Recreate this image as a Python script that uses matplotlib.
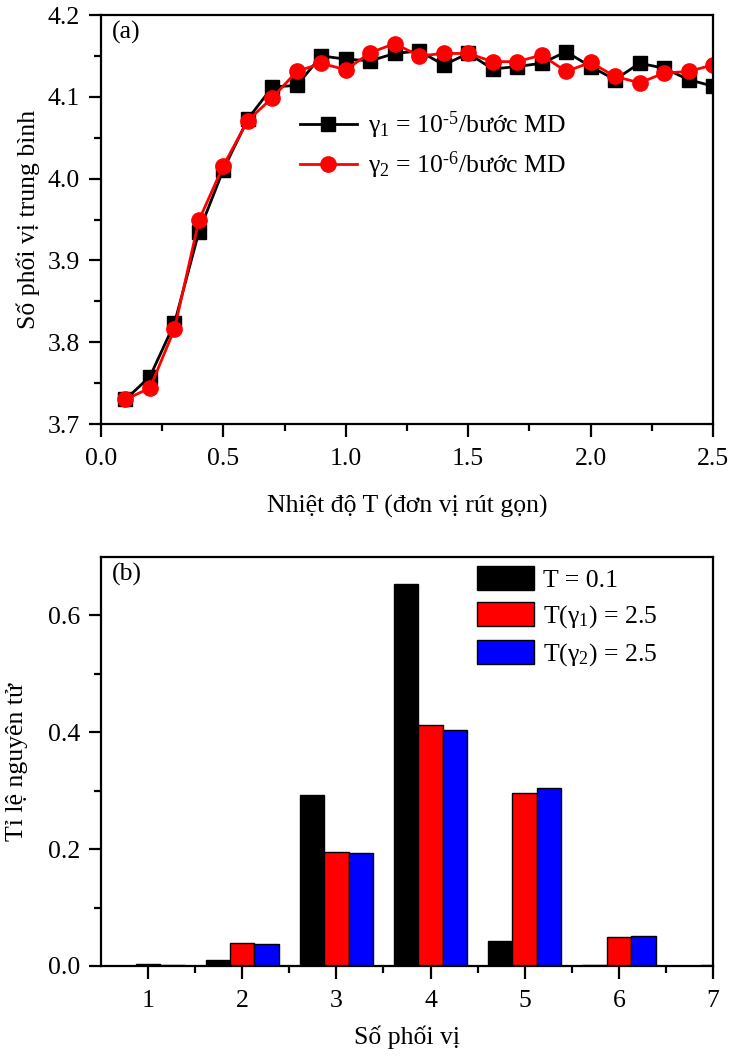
import matplotlib
matplotlib.use("Agg")
import matplotlib.pyplot as plt
import numpy as np

plt.rcParams['font.family'] = ['Liberation Serif', 'DejaVu Serif']
plt.rcParams['mathtext.fontset'] = 'custom'
plt.rcParams['mathtext.rm'] = 'Liberation Serif'
plt.rcParams['mathtext.it'] = 'Liberation Serif:italic'
plt.rcParams['mathtext.default'] = 'regular'

# ---- data panel (a)
temperature = [0.1, 0.2, 0.3, 0.4, 0.5, 0.6, 0.7, 0.8, 0.9, 1.0, 1.1, 1.2, 1.3,
               1.4, 1.5, 1.6, 1.7, 1.8, 1.9, 2.0, 2.1, 2.2, 2.3, 2.4, 2.5]
cn_gamma1 = [3.730, 3.758, 3.823, 3.935, 4.011, 4.073, 4.112, 4.114, 4.150, 4.146,
             4.144, 4.153, 4.156, 4.139, 4.153, 4.134, 4.137, 4.141, 4.155, 4.137,
             4.121, 4.141, 4.135, 4.121, 4.113]
cn_gamma2 = [3.730, 3.744, 3.816, 3.949, 4.016, 4.071, 4.099, 4.131, 4.141, 4.133,
             4.154, 4.165, 4.150, 4.153, 4.153, 4.143, 4.143, 4.151, 4.131, 4.142,
             4.125, 4.117, 4.129, 4.131, 4.139]
label_g1 = r'γ$_1$ = 10$^{\text{-5}}$/bước MD'
label_g2 = r'γ$_2$ = 10$^{\text{-6}}$/bước MD'

# ---- data panel (b)
coord_numbers = [1, 2, 3, 4, 5, 6, 7]
frac_T01 = [0.000, 0.010, 0.293, 0.654, 0.042, 0.001, 0.000]
frac_g1 = [0.003, 0.040, 0.195, 0.412, 0.296, 0.049, 0.001]
frac_g2 = [0.002, 0.037, 0.194, 0.404, 0.305, 0.052, 0.000]
bar_labels = ['T = 0.1', 'T(γ$_1$) = 2.5', 'T(γ$_2$) = 2.5']

FS = 18.5
W, H = 731, 1056
fig = plt.figure(figsize=(W / 100, H / 100), dpi=100)

def px_axes(l, t, r, b):
    return fig.add_axes([l / W, 1 - b / H, (r - l) / W, (b - t) / H])

def style(ax):
    for s in ax.spines.values():
        s.set_linewidth(1.6)
    ax.tick_params(which='both', direction='out', width=1.6, labelsize=FS,
                   top=False, right=False)
    ax.tick_params(which='major', length=9)
    ax.tick_params(which='minor', length=5)
    ax.tick_params(axis='x', which='major', pad=8)
    ax.tick_params(axis='y', which='major', pad=6)

# Panel (a)
ax1 = px_axes(101, 15, 713, 424)
ax1.plot(temperature, cn_gamma1, '-s', color='black', lw=2, ms=10, label=label_g1)
ax1.plot(temperature, cn_gamma2, '-o', color='#ff0000', lw=2, ms=11, label=label_g2)
ax1.set_xlim(0, 2.5)
ax1.set_ylim(3.7, 4.2)
ax1.set_xticks(np.arange(0, 2.51, 0.5))
ax1.set_xticks(np.arange(0.25, 2.5, 0.5), minor=True)
ax1.set_yticks(np.arange(3.7, 4.201, 0.1))
ax1.set_yticks(np.arange(3.75, 4.2, 0.1), minor=True)
ax1.xaxis.set_major_formatter(matplotlib.ticker.FormatStrFormatter('%.1f'))
ax1.yaxis.set_major_formatter(matplotlib.ticker.FormatStrFormatter('%.1f'))
style(ax1)
ax1.set_xlabel('Nhiệt độ T (đơn vị rút gọn)', fontsize=FS, labelpad=18)
ax1.set_ylabel('Số phối vị trung bình', fontsize=FS, labelpad=6)
ax1.text(0.018, 0.985, '(a)', transform=ax1.transAxes, fontsize=FS, va='top', ha='left')
ax1.legend(loc='upper left', bbox_to_anchor=((300 - 101) / 612, (424 - 110) / 409),
           frameon=False, fontsize=FS, handlelength=2.2, handletextpad=0.45,
           labelspacing=0.3, borderpad=0, borderaxespad=0)

# Panel (b)
ax2 = px_axes(101, 557, 713, 966)
x = np.array(coord_numbers, dtype=float)
bw = 0.26
ax2.bar(x - bw, frac_T01, bw, color='black', edgecolor='black', lw=1, label=bar_labels[0])
ax2.bar(x, frac_g1, bw, color='#ff0000', edgecolor='black', lw=1, label=bar_labels[1])
ax2.bar(x + bw, frac_g2, bw, color='#0000ff', edgecolor='black', lw=1, label=bar_labels[2])
ax2.set_xlim(0.5, 7)
ax2.set_ylim(0, 0.7)
ax2.set_xticks(coord_numbers)
ax2.set_xticks(np.arange(1.5, 7, 1.0), minor=True)
ax2.set_yticks([0, 0.2, 0.4, 0.6])
ax2.set_yticks([0.1, 0.3, 0.5], minor=True)
ax2.yaxis.set_major_formatter(matplotlib.ticker.FormatStrFormatter('%.1f'))
style(ax2)
ax2.set_xlabel('Số phối vị', fontsize=FS, labelpad=10)
ax2.set_ylabel('Tỉ lệ nguyên tử', fontsize=FS, labelpad=14)
ax2.text(0.018, 0.985, '(b)', transform=ax2.transAxes, fontsize=FS, va='top', ha='left')
ax2.legend(loc='upper left', bbox_to_anchor=((477 - 101) / 612, (966 - 566) / 409),
           frameon=False, fontsize=FS, handlelength=2.2, handleheight=1.04,
           handletextpad=0.35, labelspacing=0.4, borderpad=0, borderaxespad=0)

fig.savefig('out.png', dpi=100)
